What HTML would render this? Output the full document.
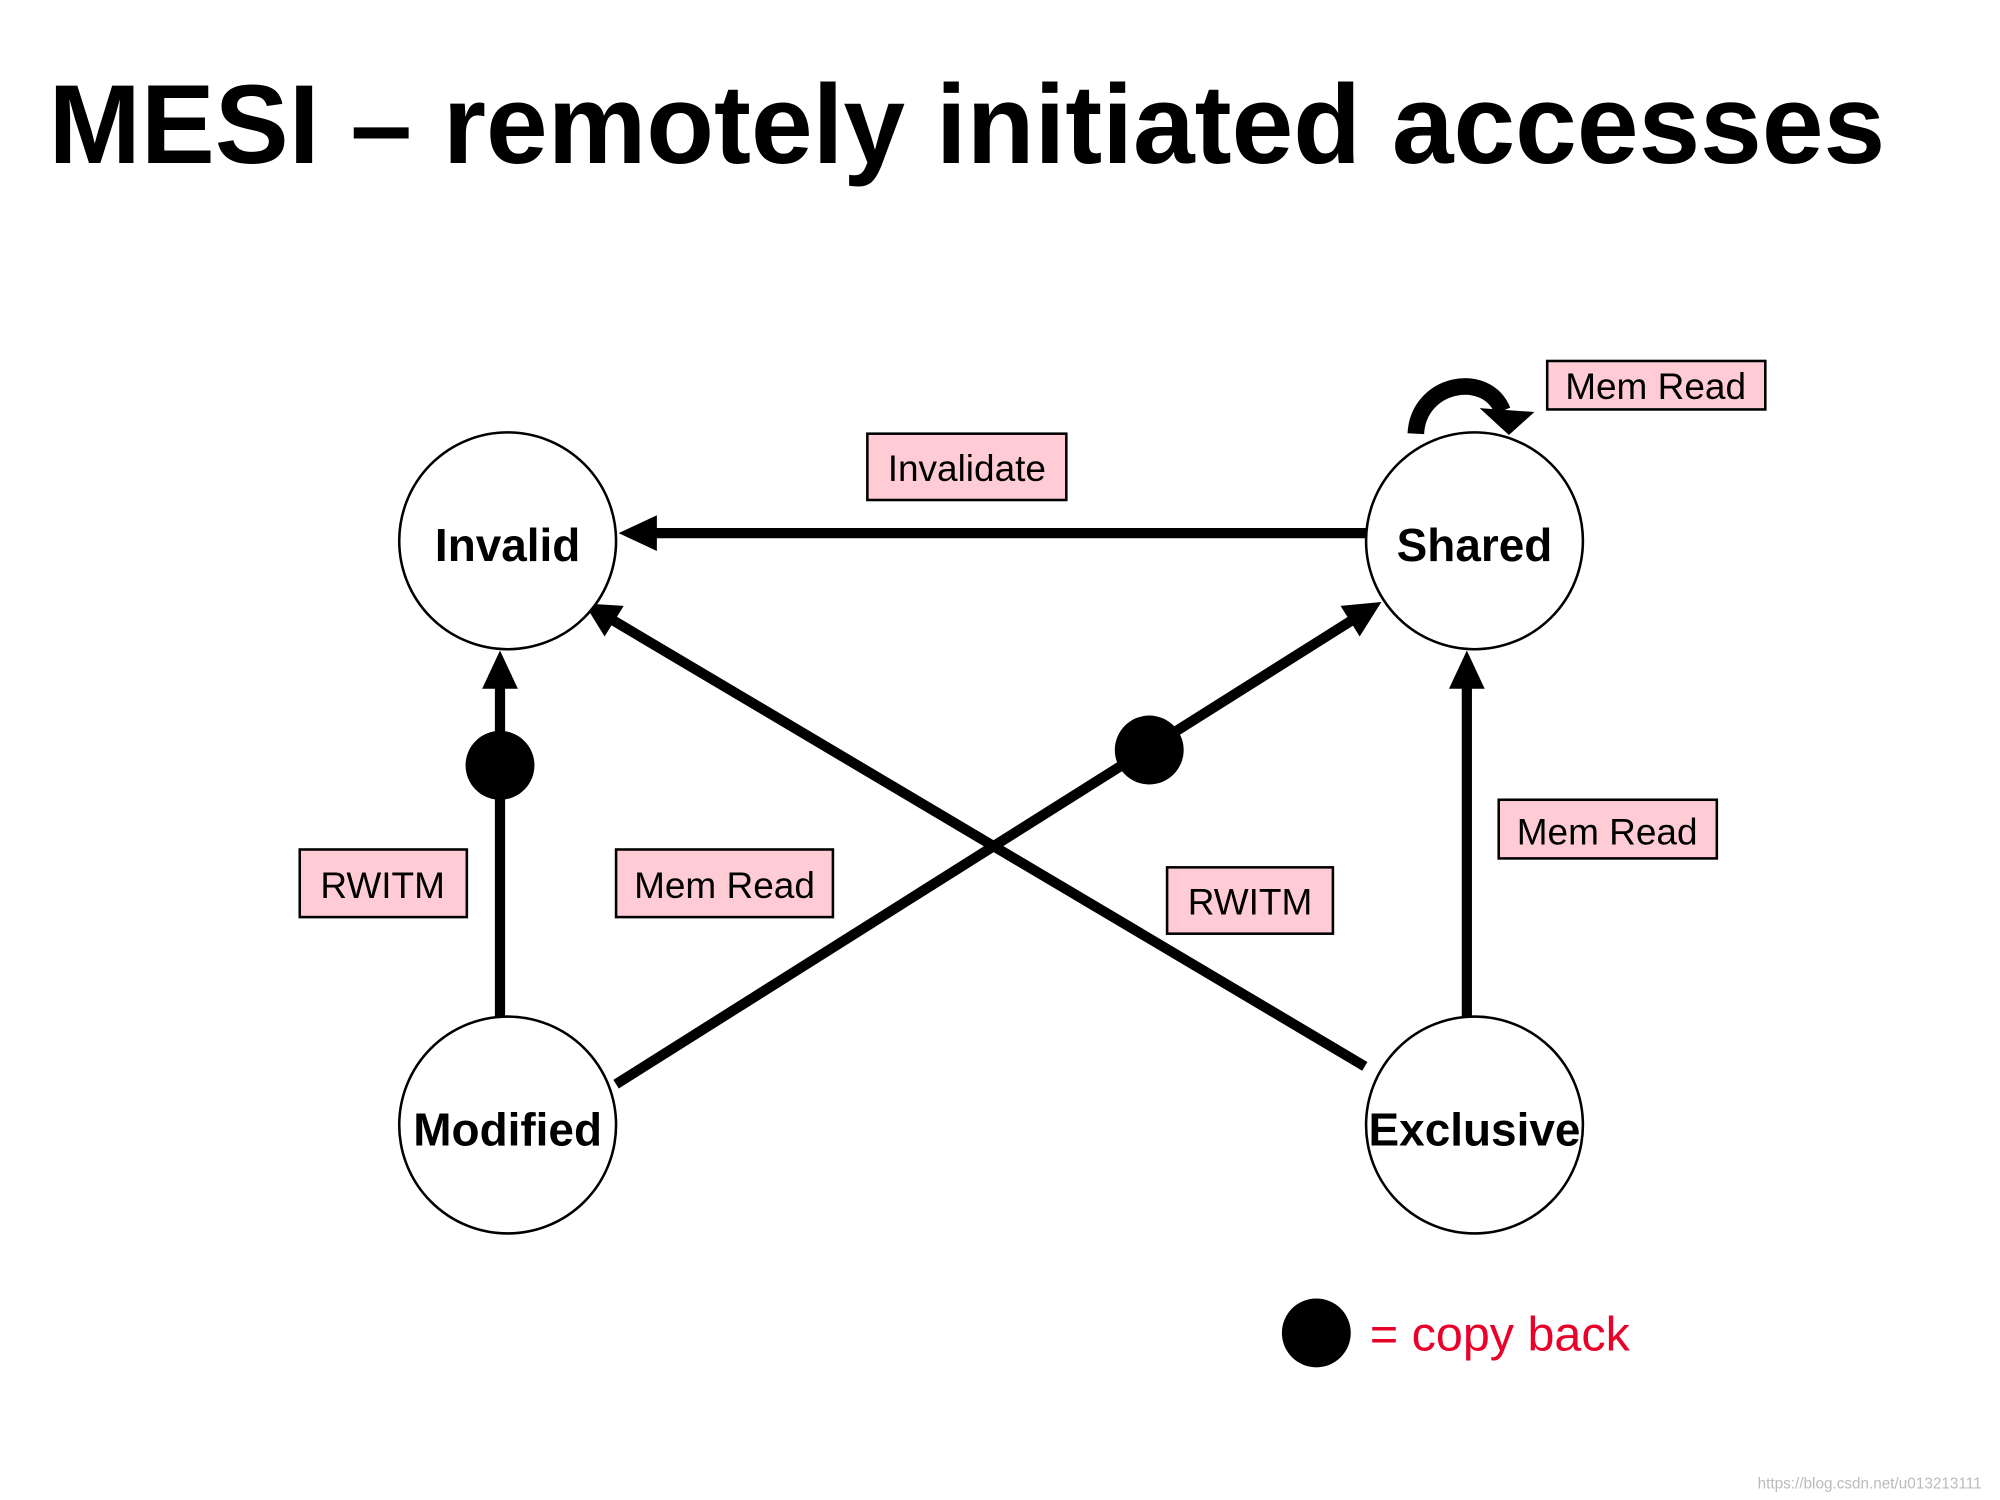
<!DOCTYPE html>
<html><head><meta charset="utf-8"><style>html,body{margin:0;padding:0;background:#fff}svg{display:block}</style></head>
<body>
<svg width="2000" height="1500" viewBox="0 0 1568 1176" xmlns="http://www.w3.org/2000/svg" font-family="Liberation Sans, sans-serif">
<rect width="1568" height="1176" fill="#fff"/>
<text x="38" y="128" font-size="88" font-weight="bold" textLength="1440" lengthAdjust="spacingAndGlyphs">MESI – remotely initiated accesses</text>
<g stroke="#000" stroke-width="8" fill="none">
<line x1="1072" y1="418" x2="510" y2="418"/>
<line x1="392" y1="797" x2="392" y2="535"/>
<line x1="1150" y1="797" x2="1150" y2="535"/>
<line x1="483" y1="850" x2="1062" y2="485"/>
<line x1="1070" y1="836" x2="480" y2="486"/>
</g>
<g fill="#000">
<polygon points="485,418 515,404 515,432"/>
<polygon points="392,510 378,540 406,540"/>
<polygon points="1150,510 1136,540 1164,540"/>
<polygon points="1083,472 1051,475 1066,499"/>
<polygon points="458,473 474,499 489,475"/>
<circle cx="392" cy="600" r="27"/>
<circle cx="901" cy="588" r="27"/>
<circle cx="1032" cy="1045" r="27"/>
<path d="M1110,340 C1112,300 1165,290 1178,322" stroke="#000" stroke-width="13" fill="none"/>
<polygon points="1160,320 1203,323 1183,341"/>
</g>
<g stroke="#000" stroke-width="2" fill="#fff">
<circle cx="398" cy="424" r="85"/>
<circle cx="1156" cy="424" r="85"/>
<circle cx="398" cy="882" r="85"/>
<circle cx="1156" cy="882" r="85"/>
</g>
<g font-size="36" font-weight="bold" text-anchor="middle">
<text x="398" y="440">Invalid</text>
<text x="1156" y="440">Shared</text>
<text x="398" y="898">Modified</text>
<text x="1156" y="898">Exclusive</text>
</g>
<g stroke="#000" stroke-width="2" fill="#ffccd5">
<rect x="680" y="340" width="156" height="52"/>
<rect x="1213" y="283" width="171" height="38"/>
<rect x="235" y="666" width="131" height="53"/>
<rect x="483" y="666" width="170" height="53"/>
<rect x="915" y="680" width="130" height="52"/>
<rect x="1175" y="627" width="171" height="46"/>
</g>
<g font-size="29" text-anchor="middle">
<text x="758" y="377">Invalidate</text>
<text x="1298" y="313">Mem Read</text>
<text x="300" y="704">RWITM</text>
<text x="568" y="704">Mem Read</text>
<text x="980" y="717">RWITM</text>
<text x="1260" y="662">Mem Read</text>
</g>
<text x="1074" y="1059" font-size="38" fill="#e8002a">= copy back</text>
<text x="1378" y="1167" font-size="12" fill="#bbb">https://blog.csdn.net/u013213111</text>
</svg>
</body></html>
